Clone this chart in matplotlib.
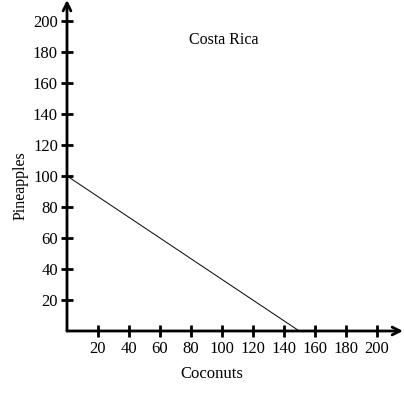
import matplotlib.pyplot as plt

plt.rcParams['font.family'] = ['Liberation Serif', 'DejaVu Serif']

# production possibilities frontier
coconuts = [0, 150]
pineapples = [100, 0]
ticks = [20, 40, 60, 80, 100, 120, 140, 160, 180, 200]

fig = plt.figure(figsize=(4.04, 3.93), dpi=100)
ax = fig.add_axes([67/404, 62/393, 336/404, 331/393])
ax.set_xlim(0, 217)
ax.set_ylim(0, 213.5)

ax.plot(coconuts, pineapples, color='black', linewidth=0.7)

for s in ['top', 'right', 'left', 'bottom']:
    ax.spines[s].set_visible(False)

# axes drawn as arrows
ax.annotate('', xy=(1.0, 0), xytext=(0, 0), xycoords='axes fraction',
            arrowprops=dict(arrowstyle='->', lw=2, color='black', shrinkA=0, shrinkB=0,
                            mutation_scale=14))
ax.annotate('', xy=(0, 1.0), xytext=(0, 0), xycoords='axes fraction',
            arrowprops=dict(arrowstyle='->', lw=2, color='black', shrinkA=0, shrinkB=0,
                            mutation_scale=14))

ax.set_xticks(ticks)
ax.set_yticks(ticks)
ax.tick_params(direction='inout', length=9, width=2, labelsize=12, pad=2)
ax.tick_params(axis='x', pad=3)

fig.text(212/404, 1 - 374/393, 'Coconuts', fontsize=12, ha='center', va='center')
fig.text(21/404, 1 - 186/393, 'Pineapples', fontsize=11.5, rotation=90,
         ha='center', va='center')
ax.text(101, 188, 'Costa Rica', fontsize=11.5, ha='center', va='center')

fig.savefig('out.png', dpi=100)
